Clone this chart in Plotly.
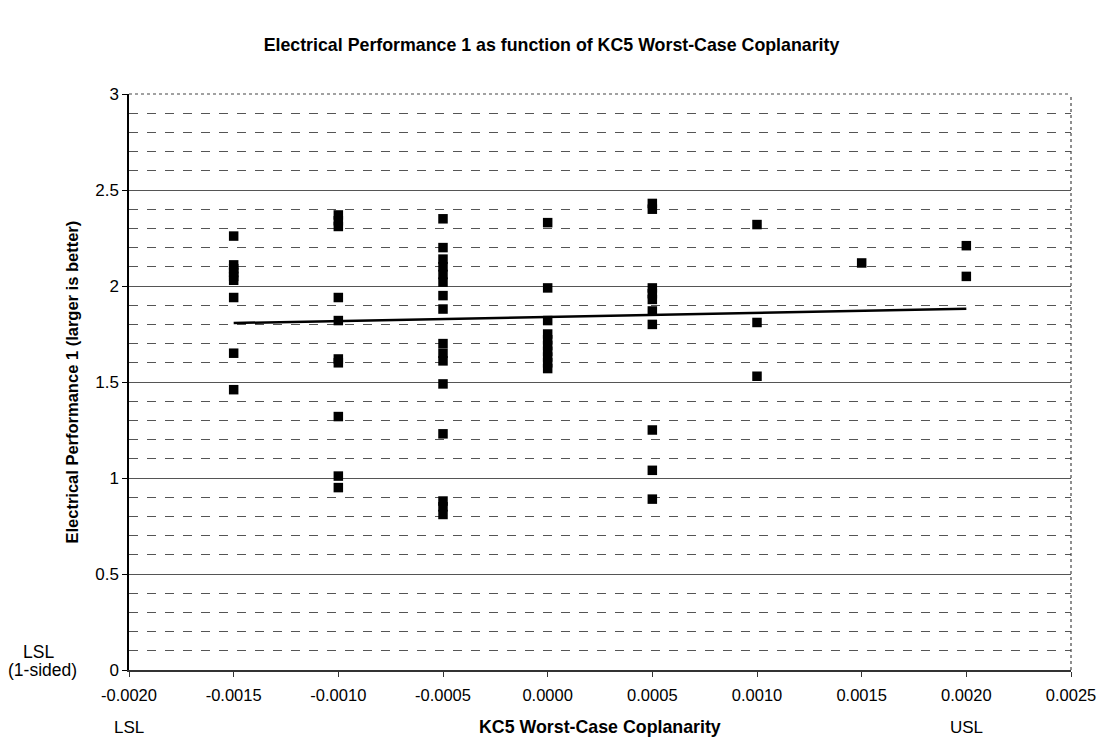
import plotly.graph_objects as go

# ---- data ----
x_levels = [-0.0015, -0.0010, -0.0005, 0.0000, 0.0005, 0.0010, 0.0015, 0.0020]
y_m15 = [2.26, 2.11, 2.09, 2.07, 2.05, 2.03, 1.94, 1.65, 1.46]
y_m10 = [2.37, 2.34, 2.31, 1.94, 1.82, 1.62, 1.60, 1.32, 1.01, 0.95]
y_m05 = [2.35, 2.20, 2.14, 2.10, 2.06, 2.02, 1.95, 1.88, 1.70, 1.65, 1.61, 1.49, 1.23, 0.88, 0.85, 0.81]
y_p00 = [2.33, 1.99, 1.82, 1.75, 1.72, 1.69, 1.66, 1.63, 1.60, 1.57]
y_p05 = [2.43, 2.40, 1.99, 1.96, 1.93, 1.87, 1.80, 1.25, 1.04, 0.89]
y_p10 = [2.32, 1.81, 1.53]
y_p15 = [2.12]
y_p20 = [2.21, 2.05]
groups = [y_m15, y_m10, y_m05, y_p00, y_p05, y_p10, y_p15, y_p20]

trend_x = [-0.0015, 0.0020]
trend_y = [1.807, 1.882]

x_ticks = [-0.0020, -0.0015, -0.0010, -0.0005, 0.0000, 0.0005, 0.0010, 0.0015, 0.0020, 0.0025]
y_ticks = [0, 0.5, 1, 1.5, 2, 2.5, 3]
y_tick_text = ["0", "0.5", "1", "1.5", "2", "2.5", "3"]
x_min, x_max = -0.0020, 0.0025
lsl_x, usl_x = -0.0020, 0.0020

xs, ys = [], []
for xv, g in zip(x_levels, groups):
    for yv in g:
        xs.append(xv)
        ys.append(yv)

FONT = "Liberation Sans, Arial, sans-serif"

fig = go.Figure()
fig.add_trace(go.Scatter(x=xs, y=ys, mode="markers",
                         marker=dict(symbol="square", size=9.5, color="black"),
                         showlegend=False))
fig.add_trace(go.Scatter(x=trend_x, y=trend_y, mode="lines",
                         line=dict(color="black", width=2.5),
                         showlegend=False))

fig.update_layout(
    width=1103, height=740,
    margin=dict(l=129, r=32, t=94, b=70, autoexpand=False),
    paper_bgcolor="white", plot_bgcolor="white",
    font=dict(family=FONT, size=17, color="black"),
    title=dict(text="<b>Electrical Performance 1 as function of KC5 Worst-Case Coplanarity</b>",
               x=0.5, xanchor="center", y=0.939, yanchor="middle",
               font=dict(size=17.8, family=FONT)),
)

fig.update_xaxes(
    range=[x_min, x_max], tickvals=x_ticks,
    ticktext=[f"{v:.4f}" for v in x_ticks],
    showgrid=False, zeroline=False, automargin=False,
    showline=True, linecolor="#333", linewidth=1.5,
    ticks="outside", ticklen=5, tickcolor="#333",
    tickfont=dict(size=16.5), ticklabelstandoff=4,
)
fig.update_yaxes(
    range=[0, 3], tickvals=y_ticks, ticktext=y_tick_text,
    showgrid=True, gridcolor="#555", gridwidth=1, automargin=False,
    minor=dict(dtick=0.1, showgrid=True, gridcolor="#555", griddash="dash", gridwidth=1,
               ticks=""),
    zeroline=False,
    showline=True, linecolor="black", linewidth=1.5,
    ticks="outside", ticklen=5, tickcolor="black",
    tickfont=dict(size=17),
)

# dotted top / right border
fig.add_shape(type="line", xref="paper", yref="paper", x0=0, x1=1, y0=1, y1=1,
              line=dict(color="#444", width=1.2, dash="dot"), layer="above")
fig.add_shape(type="line", xref="paper", yref="paper", x0=1, x1=1, y0=0, y1=1,
              line=dict(color="#444", width=1.2, dash="dot"), layer="above")

span = x_max - x_min
annos = [
    dict(text="<b>Electrical Performance 1 (larger is better)</b>", x=-0.061, y=0.5,
         textangle=-90, font=dict(size=16.5)),
    dict(text="<b>KC5 Worst-Case Coplanarity</b>", x=0.5, y=-0.099, font=dict(size=17.8)),
    dict(text="LSL", x=(lsl_x - x_min) / span, y=-0.099, font=dict(size=17)),
    dict(text="USL", x=(usl_x - x_min) / span, y=-0.099, font=dict(size=17)),
    dict(text="LSL", x=-0.096, y=0.031, font=dict(size=17.5)),
    dict(text="(1-sided)", x=-0.092, y=0.0, font=dict(size=17.5)),
]
for a in annos:
    fig.add_annotation(xref="paper", yref="paper", showarrow=False,
                       xanchor="center", yanchor="middle", **a)

fig.write_html("out.html")
